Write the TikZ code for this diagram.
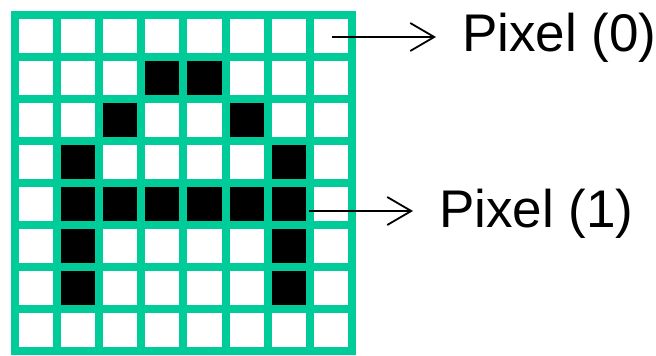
\documentclass[tikz,border=0pt]{standalone}
\usepackage{fontspec}
\setmainfont{Liberation Sans}
\usepackage{xcolor}
\usetikzlibrary{arrows.meta, positioning}
\definecolor{gridgreen}{RGB}{0,204,153}

\begin{document}
\begin{tikzpicture}[
    x=1pt, y=-1pt,
    pixon/.style={fill=black},
    gridline/.style={draw=gridgreen, line width=8pt, line cap=rect},
    lbl/.style={font=\fontsize{53}{60}\selectfont, anchor=base west, inner xsep=26pt, inner ysep=0pt},
    arr/.style={-{Straight Barb[length=24pt, width=28pt]}, line width=1.8pt},
]
\useasboundingbox (0,0) rectangle (656,356);

% black pixels (column/row)
\foreach \c/\r in {3/1,4/1,2/2,5/2,1/3,6/3,1/4,2/4,3/4,4/4,5/4,6/4,1/5,6/5,1/6,6/6}
  \fill[pixon] (15+42.1*\c, 14.5+42.1*\r) rectangle ++(42.1,42.1);

% green grid
\foreach \i in {0,...,8} {
  \draw[gridline] (15+42.1*\i, 14.5) -- (15+42.1*\i, 351.3);
  \draw[gridline] (15, 14.5+42.1*\i) -- (351.8, 14.5+42.1*\i);
}

\coordinate (p0) at (332,37);
\coordinate (p1) at (309,211);

\node[lbl] (pix0) at (436,51) {Pixel (0)};
\node[lbl] (pix1) at (413,227) {Pixel (1)};

\draw[arr] (p0) -- (p0 -| pix0.west);
\draw[arr] (p1) -- (p1 -| pix1.west);

\end{tikzpicture}
\end{document}
